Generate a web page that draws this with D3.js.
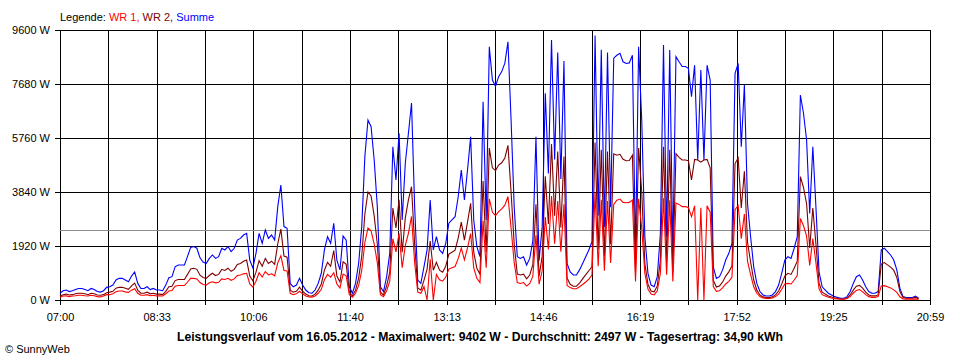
<!DOCTYPE html>
<html><head><meta charset="utf-8">
<script src="https://cdn.jsdelivr.net/npm/d3@7"></script>
<style>
body{margin:0;background:#fff}
svg{display:block;background:#fff}
text{font-family:"Liberation Sans",Arial,sans-serif}
</style>
</head><body><svg id="chart" width="960" height="360"></svg>
<script>
// ---- data ----
const startTime = "07:00";
const endTime = "20:59";
const stepMinutes = 3;
const xTickLabels = ["07:00","08:33","10:06","11:40","13:13","14:46","16:19","17:52","19:25","20:59"];
const yTickValues = [0,1920,3840,5760,7680,9600];
const average = 2497;
const seriesNames = ["WR 1", "WR 2", "Summe"];
const title = "Leistungsverlauf vom 16.05.2012 - Maximalwert: 9402 W - Durchschnitt: 2497 W - Tagesertrag: 34,90 kWh";
const copyright = "© SunnyWeb";

const summe = [
240,330,355,300,330,370,410,410,370,330,410,370,300,280,330,450,470,530,710,770,
770,710,650,850,1000,590,410,410,470,370,410,355,355,330,530,790,830,1180,1245,1245,
1245,1550,1870,1900,1840,1500,1350,1300,1480,1600,1480,1540,1840,1780,1900,1720,1840,2130,2190,2310,
2370,1420,1140,1660,2370,2015,2490,2190,2310,2130,3320,4090,2610,2550,590,470,530,770,530,355,
260,240,355,590,950,1780,2250,2015,2730,1420,1070,2280,2130,470,240,590,1300,2610,5100,6400,
6160,4980,3320,470,300,830,1660,5450,4270,5930,2845,4860,5930,7000,3320,710,590,1180,1780,3555,
1780,2250,1780,1660,2015,2730,2845,2960,3670,4620,3555,4620,5800,2845,1900,1540,7050,2845,9000,7820,
7600,7940,8120,8420,9180,6400,3320,1540,1480,1540,1245,1480,2100,5800,1400,2600,7350,4500,9245,5000,
8800,4300,8500,1300,1000,890,890,1070,1300,1540,1780,2070,9400,3000,8900,2600,8800,3300,8600,8700,
8770,8470,8410,8430,8700,1660,9000,6400,2250,950,530,470,830,2370,9070,2250,8890,1660,8650,8470,
8300,8300,8240,7230,8350,4980,8180,4980,8350,7820,1180,770,830,1070,1420,1660,2015,8060,8410,5450,
7640,3440,2250,1180,590,300,180,140,140,180,300,530,950,1420,1540,1480,1840,2250,7290,6640,
5690,3080,5450,3300,1000,470,355,240,180,120,90,60,60,120,300,590,830,890,710,470,
300,240,240,300,1780,1840,1720,1600,1420,1070,415,120,90,90,90,140,60
];
const wr2 = [
140,190,210,180,190,220,240,240,220,190,240,220,180,170,190,260,280,310,420,450,
450,420,380,500,600,350,240,240,280,220,240,210,210,190,310,470,490,690,730,730,
730,910,1100,1130,1090,880,800,770,870,950,870,910,1090,1050,1130,1020,1090,1260,1300,1380,
1420,850,680,990,1400,1200,1480,1300,1380,1270,2000,2520,1560,1520,350,280,310,460,310,210,
150,140,210,350,570,1060,1340,1200,1760,850,640,1360,1270,280,140,350,780,1560,3060,3840,
3700,2990,1990,280,180,500,990,3270,2560,3560,1700,2920,3560,4030,1990,430,350,700,1100,2100,
1060,1340,1060,990,1200,1630,1700,1770,2200,2770,2130,2770,3440,1700,1130,920,4230,1700,5400,4700,
4600,4800,4880,5050,5500,3840,1990,920,890,920,750,890,1260,3400,840,1560,4400,2700,5550,3000,
5280,2580,5100,780,560,490,490,600,750,900,1040,1180,5600,1800,5340,1560,5280,1980,5200,5150,
5180,5000,4950,4960,5150,1000,5400,3840,1300,560,320,290,500,1420,5450,1350,5340,1000,5200,5070,
4980,4980,4950,4270,5000,4980,4900,4980,5000,4700,700,460,500,640,850,1000,1210,4850,5050,3270,
4580,2060,1350,710,350,180,110,85,85,110,180,320,570,850,950,910,1130,1380,4390,4000,
3420,1850,3270,1980,600,280,210,145,110,70,55,35,35,70,180,350,490,520,420,280,
180,145,145,180,1280,1330,1250,1170,1060,800,300,85,60,60,60,100,40
];
const wr1 = [
100,140,145,120,140,150,170,170,150,140,170,150,120,110,140,190,190,220,290,320,
320,290,270,350,400,240,170,170,190,150,170,145,145,140,220,320,340,490,515,515,
515,640,770,770,750,620,550,530,610,650,610,630,750,730,770,700,750,870,890,930,
950,570,460,670,970,815,1010,890,930,860,1320,1570,1050,1030,240,190,220,310,220,145,
110,100,145,240,380,720,910,815,970,570,430,920,860,190,100,240,520,1050,2040,2560,
2460,1990,1330,190,120,330,670,2180,1710,2370,1145,1940,2370,2970,1330,280,240,480,0,1450,
0,910,720,670,815,1100,1145,1190,1470,1850,1425,1850,2360,1145,770,620,2820,1145,3600,3120,
3000,3140,3240,3370,3680,2560,1330,620,590,620,495,590,850,2300,560,1040,2950,1800,3700,2000,
3520,1720,3400,520,440,400,400,470,550,640,740,890,3800,1200,3560,1040,3520,1320,3400,3550,
3590,3470,3460,3470,3550,660,3600,2560,950,390,210,180,330,950,3620,900,3550,660,3450,3400,
3320,3320,3290,2960,3350,0,3280,0,3350,3120,480,310,330,430,570,660,805,3210,3360,2180,
3060,1380,900,470,240,120,70,55,55,70,120,210,380,570,590,570,710,870,2900,2640,
2270,1230,2180,1320,400,190,145,95,70,50,35,25,25,50,120,240,340,370,290,190,
120,95,95,120,500,510,470,430,360,270,115,35,30,30,30,40,20
];

// ---- layout ----
const colors = {"WR 1":"#ff0000","WR 2":"#800000","Summe":"#0000ff"};
const toMin = s => { const [h,m] = s.split(":").map(Number); return h*60+m; };
const t0 = toMin(startTime), t1 = toMin(endTime);
const plotLeft = 60, plotRight = 930, plotTop = 30, plotBottom = 300;

const svg = d3.select("#chart");
const x = d3.scaleLinear().domain([t0, t1]).range([plotLeft, plotRight]);
const y = d3.scaleLinear().domain([0, 9600]).range([plotBottom, plotTop]);

const gridMinutes = d3.range(19).map(k => t0 + k*(t1 - t0)/18);

// y axis with horizontal gridlines
const yAxis = svg.append("g").attr("transform", `translate(${plotLeft},0)`)
  .call(d3.axisLeft(y).tickValues(yTickValues).tickSize(-(plotRight-plotLeft)).tickSizeOuter(0)
        .tickPadding(10).tickFormat(d => d + " W"));
yAxis.select(".domain").remove();
yAxis.selectAll(".tick line").attr("x1", -5).attr("stroke", "#000").attr("shape-rendering","crispEdges");
yAxis.selectAll(".tick text").attr("font-size", 11).attr("fill", "#000")
  .attr("font-family", '"Liberation Sans",Arial,sans-serif');

// x axis with vertical gridlines
const xAxis = svg.append("g").attr("transform", `translate(0,${plotBottom})`)
  .call(d3.axisBottom(x).tickValues(gridMinutes).tickSize(-(plotBottom-plotTop)).tickSizeOuter(0)
        .tickPadding(13).tickFormat((d,i) => i % 2 === 0 ? xTickLabels[i/2] : ""));
xAxis.select(".domain").remove();
xAxis.selectAll(".tick line").attr("y1", 5).attr("stroke", "#000").attr("shape-rendering","crispEdges");
xAxis.selectAll(".tick text").attr("font-size", 11).attr("fill", "#000")
  .attr("font-family", '"Liberation Sans",Arial,sans-serif');

// average line
svg.append("line").attr("x1", plotLeft).attr("x2", plotRight)
  .attr("y1", Math.round(y(average)) + 0.5).attr("y2", Math.round(y(average)) + 0.5)
  .attr("stroke", "#8c8c8c").attr("stroke-width", 1);

// series
const times = summe.map((_, i) => t0 + i*stepMinutes);
const line = d3.line().x((d,i) => x(times[i])).y(d => y(d));
[["Summe", summe], ["WR 2", wr2], ["WR 1", wr1]].forEach(([name, vals]) => {
  svg.append("path").datum(vals).attr("d", line)
    .attr("fill", "none").attr("stroke", colors[name]).attr("stroke-width", 1.1)
    .attr("stroke-linejoin", "miter");
});

// legend
const lg = svg.append("text").attr("x", 60).attr("y", 21).attr("font-size", 11);
lg.append("tspan").attr("fill", "#000").text("Legende: ");
seriesNames.forEach((n, i) => {
  lg.append("tspan").attr("fill", colors[n]).text(n + (i < seriesNames.length - 1 ? ", " : ""));
});

// title
svg.append("text").attr("x", 480).attr("y", 341).attr("text-anchor", "middle")
  .attr("font-size", 12).attr("font-weight", "bold").attr("fill", "#000")
  .attr("textLength", 606).attr("lengthAdjust", "spacingAndGlyphs").text(title);

// copyright
svg.append("text").attr("x", 5).attr("y", 353).attr("font-size", 11).attr("fill", "#000").text(copyright);
</script>
</body></html>
